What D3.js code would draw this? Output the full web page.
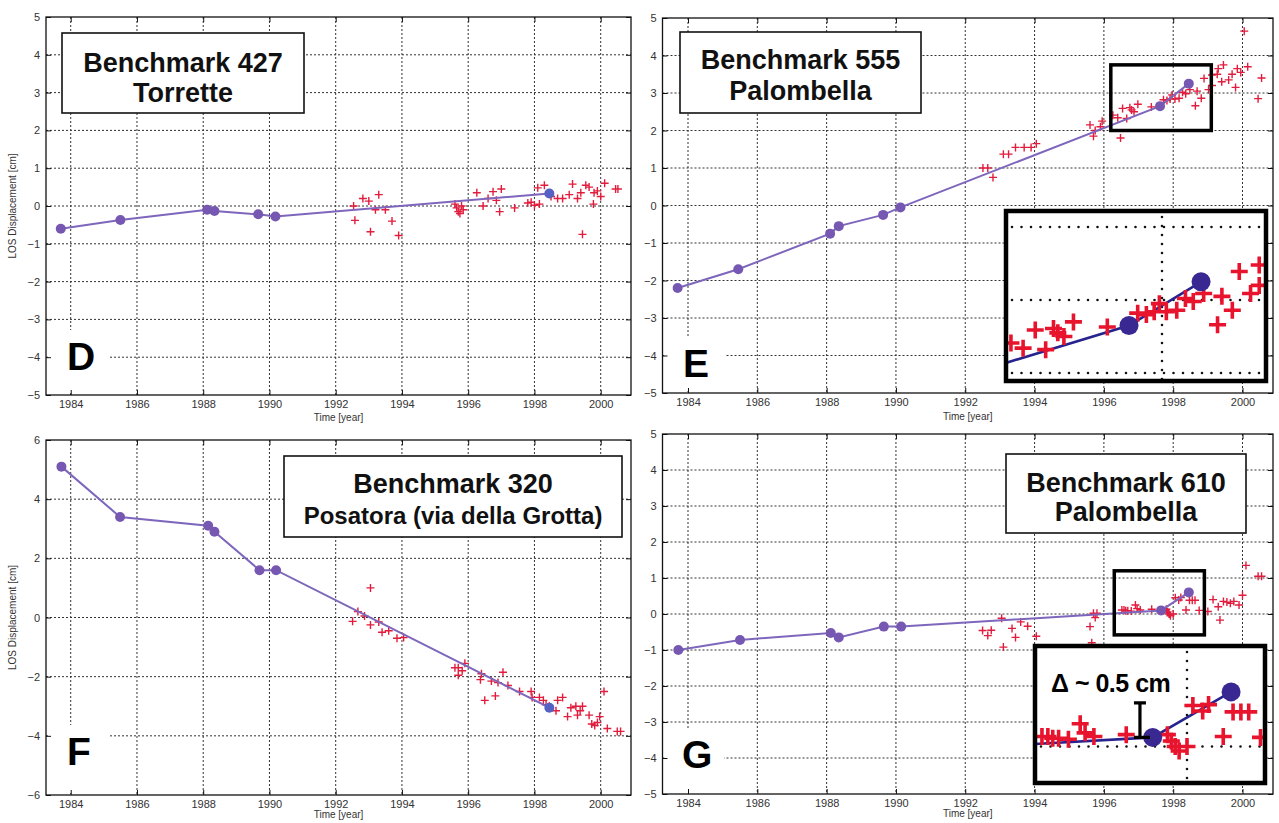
<!DOCTYPE html>
<html><head><meta charset="utf-8">
<script src="https://cdn.jsdelivr.net/npm/d3@7"></script>
<style>body{margin:0;background:#fff}svg{display:block}</style>
</head><body>
<svg id="c" width="1279" height="823"></svg>
<script>
// ---------- data ----------
const yearTicks = [1984,1986,1988,1990,1992,1994,1996,1998,2000];
const yTicks5 = [-5,-4,-3,-2,-1,0,1,2,3,4,5];
const yTicks6 = [-6,-4,-2,0,2,4,6];

// Panel D – Benchmark 427 Torrette
const levD_t = [1983.7,1985.5,1988.12,1988.34,1989.66,1990.18,1998.45];
const levD_v = [-0.6,-0.37,-0.1,-0.13,-0.22,-0.28,0.33];
const psD = [[1992.54,0.0],[1992.58,-0.38],[1992.82,0.2],[1993.0,0.13],[1993.05,-0.68],[1993.2,-0.1],[1993.3,0.3],[1993.5,-0.1],[1993.7,-0.4],[1993.9,-0.78],
 [1995.6,0.05],[1995.65,-0.05],[1995.7,-0.15],[1995.75,-0.2],[1995.8,0.0],[1995.85,-0.1],
 [1996.26,0.35],[1996.45,0.0],[1996.6,0.2],[1996.75,0.38],[1996.85,0.15],[1996.95,-0.15],[1997.0,0.45],[1997.4,-0.05],[1997.8,0.08],[1997.9,0.1],[1998.0,0.02],[1998.15,0.05],[1998.1,0.48],[1998.3,0.55],[1998.5,0.25],[1998.7,0.2],[1998.85,0.2],[1999.05,0.3],[1999.15,0.58],[1999.3,0.2],[1999.4,0.35],[1999.45,-0.75],[1999.55,0.55],[1999.65,0.5],[1999.8,0.35],[1999.78,0.05],[1999.9,0.4],[2000.0,0.25],[2000.12,0.6],[2000.45,0.45],[2000.52,0.45]];

// Panel E – Benchmark 555 Palombella
const levE_t = [1983.7,1985.45,1988.1,1988.35,1989.63,1990.13,1997.62,1998.45];
const levE_v = [-2.2,-1.7,-0.75,-0.55,-0.25,-0.05,2.65,3.25];
const psE = [[1992.51,1.0],[1992.65,1.0],[1992.8,0.75],[1993.1,1.37],[1993.25,1.37],[1993.45,1.55],[1993.7,1.55],[1993.9,1.55],[1994.05,1.65],
 [1995.6,2.15],[1995.7,1.85],[1995.75,2.0],[1995.9,2.1],[1995.95,2.25],
 [1996.26,2.41],[1996.4,2.34],[1996.48,1.8],[1996.54,2.59],[1996.66,2.32],[1996.75,2.61],[1996.8,2.55],[1996.87,2.5],[1996.98,2.7],[1997.37,2.63],[1997.72,2.82],[1997.82,2.8],[1997.91,2.84],[1997.97,2.95],[1998.05,2.84],[1998.17,2.86],[1998.27,3.02],[1998.36,2.98],[1998.48,3.09],[1998.64,2.66],[1998.69,3.05],[1998.81,2.86],[1998.89,3.39],[1999.02,3.09],[1999.12,3.48],[1999.12,3.2],
 [1999.27,3.5],[1999.3,3.65],[1999.4,3.3],[1999.45,3.75],[1999.6,3.35],[1999.7,3.5],[1999.8,3.15],[1999.85,3.65],[1999.95,3.55],[2000.05,4.65],[2000.15,3.7],[2000.45,2.85],[2000.55,3.4]];

// Panel F – Benchmark 320 Posatora
const levF_t = [1983.72,1985.49,1988.15,1988.34,1989.7,1990.2,1998.45];
const levF_v = [5.1,3.4,3.1,2.9,1.6,1.6,-3.05];
const psF = [[1992.51,-0.13],[1992.67,0.2],[1992.87,0.05],[1993.05,1.0],[1993.05,-0.25],[1993.3,-0.15],[1993.4,-0.5],[1993.6,-0.45],[1993.85,-0.7],[1994.05,-0.68],
 [1995.6,-1.7],[1995.7,-1.95],[1995.7,-1.7],[1995.82,-1.8],[1995.9,-1.55],[1996.37,-2.1],[1996.4,-1.9],[1996.5,-2.8],[1996.7,-2.15],[1996.82,-2.65],[1996.9,-2.2],[1997.05,-1.85],[1997.2,-2.3],[1997.55,-2.5],[1997.9,-2.5],[1997.93,-2.7],[1998.15,-2.7],[1998.27,-2.8],[1998.35,-2.95],[1998.45,-3.0],[1998.65,-3.15],[1998.7,-2.8],[1998.85,-2.7],[1999.0,-3.35],[1999.1,-3.05],[1999.25,-3.0],[1999.3,-3.3],[1999.38,-3.15],[1999.45,-3.0],[1999.65,-3.3],[1999.73,-3.6],[1999.82,-3.65],[1999.9,-3.55],[1999.97,-3.35],[2000.1,-2.5],[2000.2,-3.75],[2000.5,-3.85],[2000.6,-3.85]];

// Panel G – Benchmark 610 Palombella
const levG_t = [1983.72,1985.5,1988.12,1988.35,1989.65,1990.15,1997.65,1998.45];
const levG_v = [-1.0,-0.72,-0.53,-0.65,-0.35,-0.35,0.1,0.6];
const psG = [[1992.5,-0.46],[1992.65,-0.6],[1992.75,-0.45],[1993.05,-0.12],[1993.1,-0.92],[1993.35,-0.4],[1993.45,-0.65],[1993.6,-0.22],[1993.8,-0.34],[1994.05,-0.62],
 [1995.6,-0.35],[1995.65,-0.8],[1995.7,0.02],[1995.75,-0.1],[1995.8,0.02],
 [1996.52,0.11],[1996.58,0.11],[1996.63,0.09],[1996.69,0.09],[1996.79,0.08],[1996.91,0.25],[1996.96,0.15],[1997.05,0.11],[1997.38,0.13],[1997.8,0.13],[1997.84,0.06],[1997.88,0.0],[1997.92,-0.05],[1998.0,0.0],[1998.06,0.45],[1998.16,0.39],[1998.22,0.46],[1998.37,0.11],[1998.47,0.38],[1998.55,0.38],[1998.63,0.38],
 [1998.75,0.1],[1999.0,0.07],[1999.15,0.4],[1999.3,0.2],[1999.35,-0.17],[1999.45,0.35],[1999.55,0.33],[1999.65,0.3],[1999.75,0.35],[1999.9,0.25],[2000.0,0.52],[2000.1,1.35],[2000.45,1.05],[2000.55,1.05]];

const titleD = ["Benchmark 427","Torrette"];
const titleE = ["Benchmark 555","Palombella"];
const titleF = ["Benchmark 320","Posatora (via della Grotta)"];
const titleG = ["Benchmark 610","Palombella"];
const deltaLabel = "\u0394 ~ 0.5 cm";

// ---------- drawing ----------
const svg = d3.select("#c");
const FONT = "'Liberation Sans', Arial, Helvetica, sans-serif";
const RED = "#e21c3c", PURPLE_LINE = "#7d66bc", PURPLE_DOT = "#7658b2", BLUE_DOT = "#5562c4";
let clipId = 0;

function crossPath(pts, x, y, h) {
  return pts.map(d => {
    const cx = x(d[0]), cy = y(d[1]);
    return `M${cx-h},${cy}H${cx+h}M${cx},${cy-h}V${cy+h}`;
  }).join("");
}

function drawPanel(p) {
  const x = d3.scaleLinear().domain(p.xd).range([p.L, p.R]);
  const y = d3.scaleLinear().domain(p.yd).range([p.B, p.T]);
  const g = svg.append("g");

  // grid
  g.append("g").selectAll("line").data(yearTicks).join("line")
    .attr("x1", d => x(d)).attr("x2", d => x(d)).attr("y1", p.T).attr("y2", p.B)
    .attr("stroke", "#333").attr("stroke-width", 1).attr("stroke-dasharray", "2,2");
  g.append("g").selectAll("line").data(p.yt.slice(1, -1)).join("line")
    .attr("x1", p.L).attr("x2", p.R).attr("y1", d => y(d)).attr("y2", d => y(d))
    .attr("stroke", "#333").attr("stroke-width", 1).attr("stroke-dasharray", "2,2");

  // letter background + letter
  g.append("rect").attr("x", p.L + 2).attr("y", p.lb - 40)
    .attr("width", p.lx + 40 - p.L).attr("height", p.B - 2 - (p.lb - 40)).attr("fill", "#fff");
  g.append("text").attr("x", p.lx).attr("y", p.lb).text(p.letter)
    .attr("font-family", FONT).attr("font-weight", "bold").attr("font-size", 39).attr("fill", "#000");

  // data: crosses, line, dots
  const clip = "clp" + (clipId++);
  svg.append("clipPath").attr("id", clip).append("rect")
    .attr("x", p.L).attr("y", p.T).attr("width", p.R - p.L).attr("height", p.B - p.T);
  const dg = g.append("g").attr("clip-path", `url(#${clip})`);
  dg.append("path").attr("d", crossPath(p.ps, x, y, 4))
    .attr("stroke", RED).attr("stroke-width", 1.4).attr("fill", "none");
  const lev = d3.zip(p.lt, p.lv);
  dg.append("path").attr("d", d3.line().x(d => x(d[0])).y(d => y(d[1]))(lev))
    .attr("stroke", PURPLE_LINE).attr("stroke-width", 2).attr("fill", "none");
  dg.selectAll("circle").data(lev).join("circle")
    .attr("cx", d => x(d[0])).attr("cy", d => y(d[1])).attr("r", 5)
    .attr("fill", (d, i) => (p.blueLast && i === lev.length - 1) ? BLUE_DOT : PURPLE_DOT);

  // small zoom box
  if (p.sbox) {
    g.append("rect").attr("x", x(p.sbox[0])).attr("y", y(p.sbox[3]))
      .attr("width", x(p.sbox[1]) - x(p.sbox[0])).attr("height", y(p.sbox[2]) - y(p.sbox[3]))
      .attr("fill", "none").attr("stroke", "#000").attr("stroke-width", 3.5);
  }

  // title box
  const tb = p.tbox;
  g.append("rect").attr("x", tb[0]).attr("y", tb[1]).attr("width", tb[2] - tb[0]).attr("height", tb[3] - tb[1])
    .attr("fill", "#fff").attr("stroke", "#111").attr("stroke-width", 1.6);
  p.title.forEach((t, i) => {
    g.append("text").attr("x", (tb[0] + tb[2]) / 2).attr("y", p.tby[i]).text(t)
      .attr("text-anchor", "middle").attr("font-family", FONT).attr("font-weight", "bold")
      .attr("font-size", p.tfs[i]).attr("fill", "#111");
  });

  // axes (inward ticks)
  const styleAxis = s => {
    s.select(".domain").remove();
    s.attr("font-family", FONT).attr("font-size", 11);
    s.selectAll("text").attr("fill", "#333");
    s.selectAll("line").attr("stroke", "#111");
  };
  g.append("g").attr("transform", `translate(0,${p.B})`)
    .call(d3.axisBottom(x).tickValues(yearTicks).tickFormat(d3.format("d")).tickSize(-5).tickPadding(5)).call(styleAxis);
  g.append("g").attr("transform", `translate(0,${p.T})`)
    .call(d3.axisTop(x).tickValues(yearTicks).tickFormat("").tickSize(-5)).call(styleAxis);
  g.append("g").attr("transform", `translate(${p.L},0)`)
    .call(d3.axisLeft(y).tickValues(p.yt).tickFormat(d3.format("d")).tickSize(-5).tickPadding(6)).call(styleAxis);
  g.append("g").attr("transform", `translate(${p.R},0)`)
    .call(d3.axisRight(y).tickValues(p.yt).tickFormat("").tickSize(-5)).call(styleAxis);

  // frame
  g.append("rect").attr("x", p.L).attr("y", p.T).attr("width", p.R - p.L).attr("height", p.B - p.T)
    .attr("fill", "none").attr("stroke", "#111").attr("stroke-width", 1.3);

  // axis labels
  g.append("text").attr("x", (p.L + p.R) / 2).attr("y", p.B + p.xlOff).text("Time [year]")
    .attr("text-anchor", "middle").attr("font-family", FONT).attr("font-size", 10).attr("fill", "#333");
  if (p.ylabel) {
    g.append("text").attr("transform", `translate(${p.L - 30},${(p.T + p.B) / 2}) rotate(-90)`)
      .text("LOS Displacement [cm]").attr("text-anchor", "middle")
      .attr("font-family", FONT).attr("font-size", 10).attr("fill", "#333");
  }

  // inset
  if (p.inset) drawInset(p, p.inset);
}

function drawInset(p, s) {
  const x = d3.scaleLinear().domain(s.xd).range([s.L, s.R]);
  const y = d3.scaleLinear().domain(s.yd).range([s.B, s.T]);
  const g = svg.append("g");
  const clip = "clp" + (clipId++);
  svg.append("clipPath").attr("id", clip).append("rect")
    .attr("x", s.L).attr("y", s.T).attr("width", s.R - s.L).attr("height", s.B - s.T);
  g.append("rect").attr("x", s.L).attr("y", s.T).attr("width", s.R - s.L).attr("height", s.B - s.T).attr("fill", "#fff");
  const cg = g.append("g").attr("clip-path", `url(#${clip})`);
  cg.selectAll("line.h").data(s.hy).join("line")
    .attr("x1", s.L + 6).attr("x2", s.R).attr("y1", d => y(d)).attr("y2", d => y(d))
    .attr("stroke", "#111").attr("stroke-width", 2.6).attr("stroke-linecap", "round").attr("stroke-dasharray", "0,9.5");
  cg.selectAll("line.v").data(s.vx).join("line")
    .attr("x1", d => x(d)).attr("x2", d => x(d)).attr("y1", s.T + 6).attr("y2", s.B)
    .attr("stroke", "#111").attr("stroke-width", 2.6).attr("stroke-linecap", "round").attr("stroke-dasharray", "0,9");
  const lev = d3.zip(p.lt, p.lv);
  cg.append("path").attr("d", d3.line().x(d => x(d[0])).y(d => y(d[1]))(lev))
    .attr("stroke", "#26238f").attr("stroke-width", 2.6).attr("fill", "none");
  cg.append("path").attr("d", crossPath(p.ps, x, y, 8.5))
    .attr("stroke", "#e8142e").attr("stroke-width", 3.6).attr("fill", "none");
  cg.selectAll("circle").data(lev).join("circle")
    .attr("cx", d => x(d[0])).attr("cy", d => y(d[1])).attr("r", 9.5).attr("fill", "#3a2892");
  if (s.delta) {
    const d = s.delta;
    const bx = x(d.t), y1 = y(d.v0), y2 = y(d.v1);
    cg.append("path").attr("d", `M${bx},${y1}V${y2}M${bx-6},${y2}H${bx+6}M${bx-6},${y1}H${bx+10}`)
      .attr("stroke", "#000").attr("stroke-width", 3.2).attr("fill", "none");
    g.append("text").attr("x", s.L + 16).attr("y", s.T + 46).text(deltaLabel)
      .attr("font-family", FONT).attr("font-weight", "bold").attr("font-size", 25)
      .attr("letter-spacing", -0.5).attr("fill", "#000");
  }
  g.append("rect").attr("x", s.L).attr("y", s.T).attr("width", s.R - s.L).attr("height", s.B - s.T)
    .attr("fill", "none").attr("stroke", "#000").attr("stroke-width", 4.5);
}

drawPanel({L:46, R:631, T:17, B:395, xd:[1983.254,2000.915], yd:[-5,5], yt:yTicks5,
  lt:levD_t, lv:levD_v, ps:psD, blueLast:true, letter:"D", lx:67, lb:370,
  title:titleD, tbox:[62,33,304,113], tby:[72,102], tfs:[27,27], ylabel:true, xlOff:26});

drawPanel({L:662.5, R:1273, T:18, B:393, xd:[1983.264,2000.88], yd:[-5,5], yt:yTicks5,
  lt:levE_t, lv:levE_v, ps:psE, blueLast:false, letter:"E", lx:683, lb:377,
  title:titleE, tbox:[680,32,921,113], tby:[69,100], tfs:[27,27], ylabel:false, xlOff:27,
  sbox:[1996.2,1999.1,2.0,3.75],
  inset:{L:1006, R:1266, T:211, B:381, xd:[1996.203,1999.198], yd:[1.89,4.22], hy:[2,3,4], vx:[1998]}});

drawPanel({L:46, R:631, T:440, B:795, xd:[1983.254,2000.915], yd:[-6,6], yt:yTicks6,
  lt:levF_t, lv:levF_v, ps:psF, blueLast:true, letter:"F", lx:67, lb:765,
  title:titleF, tbox:[284,456,622,537], tby:[493,524], tfs:[27,24], ylabel:true, xlOff:23,
  });

drawPanel({L:662.5, R:1273, T:434, B:794, xd:[1983.264,2000.88], yd:[-5,5], yt:yTicks5,
  lt:levG_t, lv:levG_v, ps:psG, blueLast:false, letter:"G", lx:682, lb:768,
  title:titleG, tbox:[1006,454,1246,533], tby:[492,521], tfs:[27,27], ylabel:false, xlOff:23,
  sbox:[1996.3,1998.9,-0.58,1.2],
  inset:{L:1035, R:1265, T:646, B:783, xd:[1996.449,1998.796], yd:[-0.401,1.104], hy:[0], vx:[1998],
         delta:{t:1997.52, v0:0.1, v1:0.48}}});
</script>
</body></html>
